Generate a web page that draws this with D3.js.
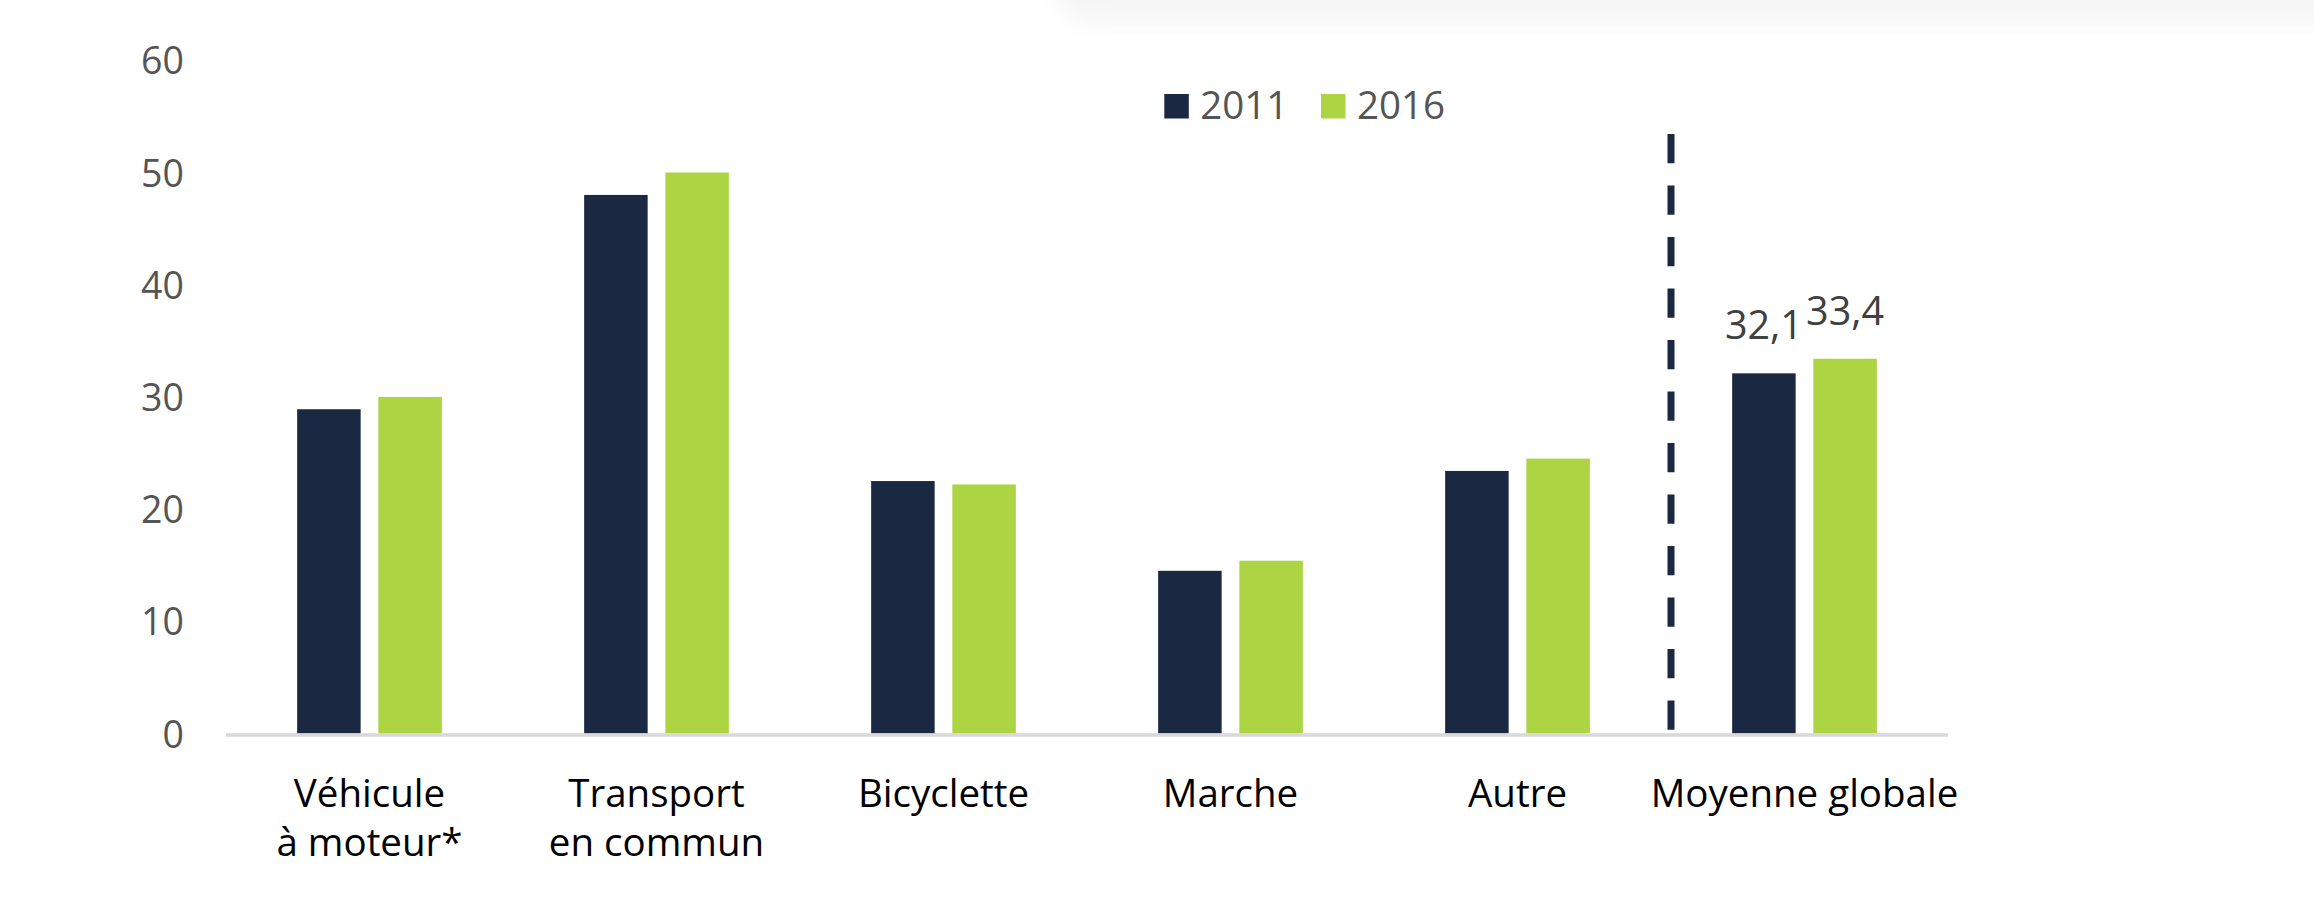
<!DOCTYPE html>
<html>
<head>
<meta charset="utf-8">
<script src="https://cdn.jsdelivr.net/npm/d3@7"></script>
<style>
  html, body { margin: 0; padding: 0; background: #ffffff; }
  svg { display: block; font-family: "Open Sans", "Noto Sans", sans-serif; }
</style>
</head>
<body>
<svg id="chart" width="2314" height="916"></svg>
<script>
// ---- data ----
const categories = ["Véhicule à moteur*", "Transport en commun", "Bicyclette", "Marche", "Autre", "Moyenne globale"];
const categoryLines = [["Véhicule", "à moteur*"], ["Transport", "en commun"], ["Bicyclette"], ["Marche"], ["Autre"], ["Moyenne globale"]];
const seriesNames = ["2011", "2016"];
const values2011 = [28.9, 48.0, 22.5, 14.5, 23.4, 32.1];
const values2016 = [30.0, 50.0, 22.2, 15.4, 24.5, 33.4];
const labelledCategories = ["Moyenne globale"];
const yTicks = [0, 10, 20, 30, 40, 50, 60];
const colors = ["#1b2842", "#acd443"];

// ---- layout ----
const svg = d3.select("#chart");
const left = 226, right = 1948, y0 = 733.5, yTop = 60.3;

const defs = svg.append("defs");
const f = defs.append("filter").attr("id", "blur").attr("x", "-20%").attr("y", "-200%").attr("width", "140%").attr("height", "500%");
f.append("feGaussianBlur").attr("stdDeviation", 14);
svg.append("rect").attr("x", 1060).attr("y", -50).attr("width", 1400).attr("height", 72)
  .attr("rx", 30).attr("fill", "#ececec").attr("opacity", 0.55).attr("filter", "url(#blur)");

const x = d3.scaleBand().domain(categories).range([left, right]).paddingInner(0).paddingOuter(0);
const groupW = 144.7;
const x1 = d3.scaleBand().domain(seriesNames).range([0, groupW]).paddingInner(0.218).paddingOuter(0);
const y = d3.scaleLinear().domain([0, 60]).range([y0, yTop]);

// y axis labels
const yAxis = d3.axisLeft(y).tickValues(yTicks).tickSize(0).tickPadding(0).tickFormat(d3.format("d"));
const gy = svg.append("g").attr("transform", `translate(184,0)`).call(yAxis);
gy.select(".domain").remove();
gy.selectAll("text").attr("fill", "#555555").attr("font-size", 37.5).attr("font-family", "'Open Sans', sans-serif")
  .attr("dy", "0.36em").attr("x", 0);

// bars
const rows = categories.map((c, i) => ({ cat: c, vals: [values2011[i], values2016[i]] }));
const groups = svg.append("g").selectAll("g").data(rows).join("g")
  .attr("transform", d => `translate(${x(d.cat) + x.bandwidth() / 2 - groupW / 2},0)`);
groups.selectAll("rect").data(d => d.vals.map((v, k) => ({ s: seriesNames[k], v, k, cat: d.cat })))
  .join("rect")
  .attr("x", d => x1(d.s)).attr("width", x1.bandwidth())
  .attr("y", d => y(d.v)).attr("height", d => y0 - y(d.v))
  .attr("fill", d => colors[d.k]);

// data labels
groups.selectAll("text").data(d => labelledCategories.includes(d.cat) ? d.vals.map((v, k) => ({ s: seriesNames[k], v })) : [])
  .join("text")
  .attr("x", d => x1(d.s) + x1.bandwidth() / 2)
  .attr("y", d => y(d.v) - 34)
  .attr("text-anchor", "middle").attr("font-size", 39.5).attr("fill", "#404040")
  .text(d => d3.format(".1f")(d.v).replace(".", ","));

// x axis line
svg.append("line").attr("x1", left).attr("x2", right).attr("y1", y0 + 1.5).attr("y2", y0 + 1.5)
  .attr("stroke", "#d9d9d9").attr("stroke-width", 3.5);

// category labels
const gx = svg.append("g");
categories.forEach((c, i) => {
  const t = gx.append("text").attr("x", x(c) + x.bandwidth() / 2).attr("y", 807)
    .attr("text-anchor", "middle").attr("font-size", 38.5).attr("fill", "#000000");
  categoryLines[i].forEach((ln, j) => {
    t.append("tspan").attr("x", x(c) + x.bandwidth() / 2).attr("dy", j === 0 ? 0 : 49).text(ln);
  });
});

// dashed separator
const sepX = x("Moyenne globale") + 10;
svg.append("line").attr("x1", sepX).attr("x2", sepX).attr("y1", 134).attr("y2", 730)
  .attr("stroke", "#1b2842").attr("stroke-width", 7).attr("stroke-dasharray", "29.3 22.2");

// legend
const legend = svg.append("g");
const legendX = [1164.3, 1321];
seriesNames.forEach((s, k) => {
  legend.append("rect").attr("x", legendX[k]).attr("y", 94).attr("width", 24.5).attr("height", 24.5).attr("fill", colors[k]);
  legend.append("text").attr("x", legendX[k] + 36).attr("y", 119).attr("font-size", 38.5).attr("fill", "#555555").text(s);
});
</script>
</body>
</html>
